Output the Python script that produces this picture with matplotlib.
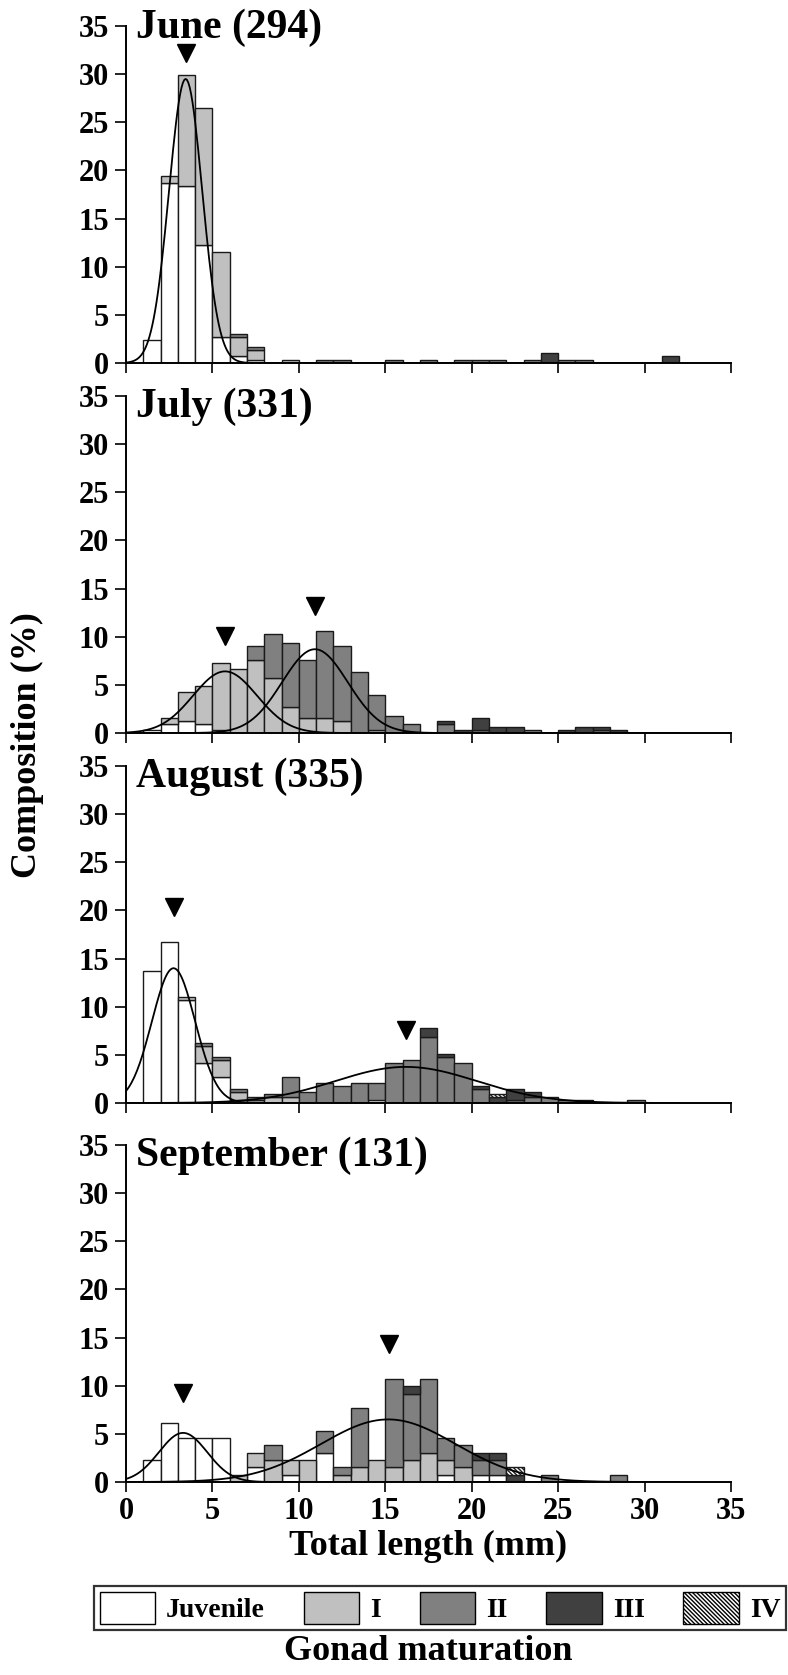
import numpy as np
import matplotlib
matplotlib.use('Agg')
import matplotlib.pyplot as plt
from matplotlib.patches import Patch

plt.rcParams['font.family'] = 'Liberation Serif'
plt.rcParams['font.weight'] = 'bold'
plt.rcParams['hatch.linewidth'] = 1.0

# fish counts per 1-mm length class (0-1, 1-2, ... 32-33 mm)
nbins = 33
bins = np.arange(nbins)

def counts(d):
    out = np.zeros(nbins)
    for k, v in d.items():
        out[k] = v
    return out

months = ['June (294)', 'July (331)', 'August (335)', 'September (131)']
n_fish = [294, 331, 335, 131]

juv = [
    counts({1: 7, 2: 55, 3: 54, 4: 36, 5: 8, 6: 2, 7: 1}),
    counts({1: 1, 2: 3, 3: 4, 4: 3, 5: 1}),
    counts({1: 46, 2: 56, 3: 36, 4: 14, 5: 9, 6: 1, 14: 1}),
    counts({1: 3, 2: 8, 3: 6, 4: 6, 5: 6, 7: 2, 9: 1, 11: 4, 18: 1, 20: 1, 21: 1}),
]
st1 = [
    counts({2: 2, 3: 34, 4: 42, 5: 26, 6: 6, 7: 3, 9: 1}),
    counts({2: 2, 3: 10, 4: 13, 5: 23, 6: 22, 7: 25, 8: 19, 9: 9, 10: 5, 11: 5, 12: 4, 14: 1}),
    counts({3: 1, 4: 6, 5: 6, 6: 3, 7: 1, 8: 2, 9: 2}),
    counts({6: 1, 7: 2, 8: 3, 9: 2, 10: 3, 12: 1, 13: 2, 14: 3, 15: 2, 16: 3, 17: 4, 18: 2, 19: 2}),
]
st2 = [
    counts({6: 1, 7: 1, 11: 1, 12: 1, 15: 1, 17: 1, 19: 1, 20: 1, 21: 1, 23: 1, 25: 1, 26: 1}),
    counts({7: 5, 8: 15, 9: 22, 10: 20, 11: 30, 12: 26, 13: 21, 14: 12, 15: 6, 16: 3,
            18: 3, 20: 1, 23: 1, 27: 1}),
    counts({4: 1, 5: 1, 6: 1, 7: 1, 8: 1, 9: 7, 10: 4, 11: 7, 12: 6, 13: 7, 14: 6, 15: 14,
            16: 15, 17: 23, 18: 16, 19: 14, 20: 5, 22: 1, 23: 2, 24: 2, 25: 1, 29: 1}),
    counts({8: 2, 11: 3, 12: 1, 13: 8, 15: 12, 16: 9, 17: 10, 18: 3, 19: 3, 20: 2, 21: 2,
            24: 1, 28: 1}),
]
st3 = [
    counts({24: 3, 31: 2}),
    counts({18: 1, 19: 1, 20: 4, 21: 2, 22: 2, 25: 1, 26: 2, 27: 1, 28: 1}),
    counts({17: 3, 18: 1, 20: 1, 21: 2, 22: 4, 23: 2, 26: 1}),
    counts({16: 1, 20: 1, 21: 1, 22: 1}),
]
st4 = [
    counts({}),
    counts({}),
    counts({21: 1}),
    counts({22: 1}),
]

# fitted normal components: (mean, sd, peak %)
fits = [
    [(3.45, 0.96, 29.5)],
    [(5.73, 1.85, 6.4), (10.93, 1.9, 8.7)],
    [(2.75, 1.25, 14.0), (16.2, 4.1, 3.75)],
    [(3.3, 1.4, 5.1), (15.17, 3.9, 6.5)],
]
# cohort arrows: (x, y)
arrows = [
    [(3.45, 32.2)],
    [(5.73, 10.1), (10.93, 13.2)],
    [(2.75, 20.4), (16.2, 7.6)],
    [(3.3, 9.2), (15.2, 14.3)],
]
title_y = [33.75, 32.8, 32.8, 32.8]

stage_names = ['Juvenile', 'I', 'II', 'III', 'IV']
stage_colors = ['white', '#c0c0c0', '#808080', '#404040', 'white']
iv_hatch = '\\\\\\\\\\\\\\\\'

W, H = 788, 1675
fig = plt.figure(figsize=(W / 100, H / 100), dpi=100)
baselines = [363, 733, 1103, 1482]
ph = 337

xs = np.linspace(0, 32, 400)
for i in range(4):
    ax = fig.add_axes([126 / W, 1 - baselines[i] / H, 605 / W, ph / H])
    pct = [s[i] / n_fish[i] * 100 for s in (juv, st1, st2, st3, st4)]
    bottom = np.zeros(nbins)
    for j, p in enumerate(pct):
        hatch = iv_hatch if j == 4 else None
        mask = p > 0
        ax.bar(bins[mask], p[mask], width=1, align='edge', bottom=bottom[mask],
               color=stage_colors[j], edgecolor='#1a1a1a', linewidth=1.0, hatch=hatch)
        bottom += p
    for m, sd, pk in fits[i]:
        ax.plot(xs, pk * np.exp(-(xs - m) ** 2 / (2 * sd ** 2)), color='black', lw=1.3)
    for ax_x, ax_y in arrows[i]:
        ax.plot(ax_x, ax_y, marker='v', ms=13, color='black', ls='none', clip_on=False)
    ax.text(0.55, title_y[i], months[i], fontsize=30, va='baseline', ha='left')

    ax.set_xlim(0, 35)
    ax.set_ylim(0, 35)
    ax.set_xticks(range(0, 36, 5))
    ax.set_yticks(range(0, 36, 5))
    for s in ['top', 'right']:
        ax.spines[s].set_visible(False)
    for s in ['left', 'bottom']:
        ax.spines[s].set_linewidth(1.4)
    ax.tick_params(axis='y', direction='out', length=8, width=1.2, labelsize=22, pad=4)
    ax.tick_params(axis='x', direction='out', length=7, width=1.2, labelsize=22, pad=4)
    if i < 3:
        ax.set_xticklabels([])

fig.text(27 / W, 1 - 745 / H, 'Composition (%)', rotation=90, ha='center', va='center', fontsize=26)
fig.text(428 / W, 1 - 1546 / H, 'Total length (mm)', ha='center', va='center', fontsize=26)
fig.text(428 / W, 1 - 1652 / H, 'Gonad maturation', ha='center', va='center', fontsize=26)

handles = []
for j in range(5):
    handles.append(Patch(facecolor=stage_colors[j], edgecolor='black', linewidth=1.0,
                         hatch=iv_hatch if j == 4 else None))
leg = fig.legend(handles, stage_names, loc='center', ncol=5, mode='expand',
                 bbox_to_anchor=(94 / W, 1 - 1632 / H, 692 / W, 48 / H),
                 fontsize=20, frameon=True, fancybox=False, edgecolor='black',
                 handlelength=2.0, handleheight=1.45, handletextpad=0.4,
                 borderpad=0.2, borderaxespad=0)
leg.get_frame().set_linewidth(1.6)

fig.savefig('out.png', dpi=100)
